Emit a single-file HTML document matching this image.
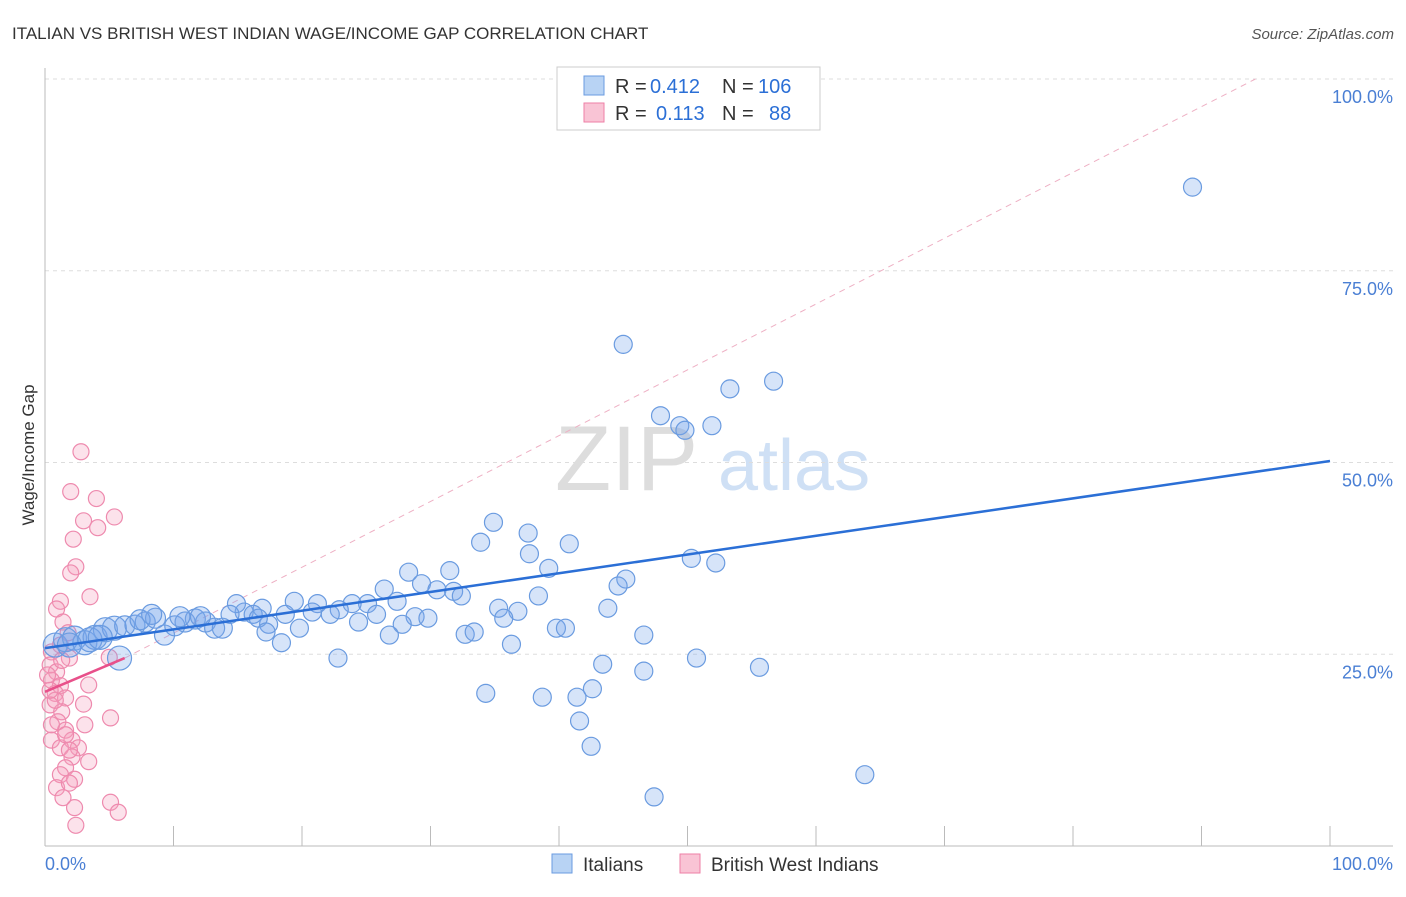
<!DOCTYPE html>
<html><head><meta charset="utf-8"><style>
body{margin:0;background:#fff;font-family:"Liberation Sans",sans-serif}
svg text{font-family:"Liberation Sans",sans-serif}
</style></head><body>
<svg id="chart" width="1406" height="892" xmlns="http://www.w3.org/2000/svg">
<text x="12" y="39" font-size="17" fill="#333">ITALIAN VS BRITISH WEST INDIAN WAGE/INCOME GAP CORRELATION CHART</text>
<text x="1394" y="39" font-size="15" fill="#555" text-anchor="end" font-style="italic">Source: ZipAtlas.com</text>
<text x="555" y="490" font-size="92" fill="#ddd" font-family="Liberation Serif">ZIP</text>
<text x="718" y="490" font-size="72" fill="#cfe0f5">atlas</text>
<text transform="translate(34,455) rotate(-90)" font-size="17" fill="#333" text-anchor="middle">Wage/Income Gap</text>
<g id="grid"></g><g id="marks"></g>
<g>
<rect x="557" y="67" width="263" height="63" fill="#fff" stroke="#ccc"/>
<rect x="584" y="76" width="20" height="19" fill="#b8d3f4" stroke="#6a9be0"/>
<rect x="584" y="103" width="20" height="19" fill="#f9c4d5" stroke="#ee7fa6"/>
<g font-size="20">
<text x="615" y="93" fill="#333">R =</text><text x="650" y="93" fill="#2b6fd6">0.412</text>
<text x="722" y="93" fill="#333">N =</text><text x="758" y="93" fill="#2b6fd6">106</text>
<text x="615" y="120" fill="#333">R =</text><text x="656" y="120" fill="#2b6fd6">0.113</text>
<text x="722" y="120" fill="#333">N =</text><text x="769" y="120" fill="#2b6fd6">88</text>
</g>
</g>
<g>
<rect x="552" y="854" width="20" height="19" fill="#b8d3f4" stroke="#6a9be0"/>
<text x="583" y="871" font-size="19" fill="#333">Italians</text>
<rect x="680" y="854" width="20" height="19" fill="#f9c4d5" stroke="#ee7fa6"/>
<text x="711" y="871" font-size="19" fill="#333">British West Indians</text>
</g>
</svg>
<script>
const blueX=[89.3,45.0,56.7,53.3,47.9,49.4,51.9,49.8,34.9,37.6,33.9,40.8,37.7,50.3,52.2,39.2,28.3,31.5,45.2,26.4,29.3,30.5,31.8,32.4,44.6,38.4,27.4,25.1,23.9,43.8,35.3,36.8,35.7,28.8,29.8,25.8,24.4,22.9,21.2,19.4,20.8,22.2,19.8,18.7,16.9,15.5,14.9,14.4,16.2,17.4,16.6,27.8,26.8,32.7,33.4,36.3,39.8,40.5,46.6,18.4,17.2,22.8,43.4,50.7,55.6,46.6,42.6,34.3,38.7,41.4,41.6,42.5,63.8,47.4,0.8,1.6,2.3,3.1,3.9,4.7,5.4,6.2,7.0,7.8,8.6,9.3,10.1,10.9,11.7,12.5,13.2,13.8,5.8,1.9,3.5,4.3,7.4,8.3,10.5,12.1];
const blueY=[85.9,65.4,60.6,59.6,56.1,54.8,54.8,54.2,42.2,40.8,39.6,39.4,38.1,37.5,36.9,36.2,35.7,35.9,34.8,33.5,34.2,33.4,33.2,32.6,33.9,32.6,31.9,31.6,31.6,31.0,31.0,30.6,29.7,29.9,29.7,30.2,29.2,30.8,31.6,31.9,30.5,30.2,28.4,30.2,31.0,30.5,31.6,30.2,30.2,28.9,29.7,28.9,27.5,27.6,27.9,26.3,28.4,28.4,27.5,26.5,27.9,24.5,23.7,24.5,23.3,22.8,20.5,19.9,19.4,19.4,16.3,13.0,9.3,6.4,26.2,26.9,27.1,26.5,27.2,28.2,28.4,28.7,28.8,29.2,29.7,27.5,28.7,29.2,29.6,29.2,28.4,28.4,24.5,26.2,26.9,27.2,29.5,30.2,29.9,29.9];
const pinkX=[2.8,2.0,4.0,5.4,3.0,4.1,2.2,2.4,2.0,3.5,1.2,0.9,1.4,1.8,1.2,0.5,1.9,5.0,0.4,0.9,0.5,1.2,3.4,0.8,1.6,0.4,3.0,1.3,5.1,1.0,3.1,1.6,0.5,2.1,1.2,2.6,2.1,3.4,1.6,1.2,2.3,0.9,1.9,1.4,5.1,2.3,5.7,2.4,0.8,0.4,0.2,1.3,1.6,0.5,1.9];
const pinkY=[51.4,46.2,45.3,42.9,42.4,41.5,40.0,36.4,35.6,32.5,31.9,30.9,29.2,27.8,26.2,25.3,24.5,24.6,23.6,22.7,21.6,20.9,21.0,19.9,19.3,18.4,18.5,17.5,16.7,16.2,15.8,15.1,13.8,13.8,12.8,12.8,11.6,11.0,10.2,9.3,8.7,7.6,8.2,6.3,5.7,5.0,4.4,2.7,19.0,20.3,22.3,24.2,14.5,15.8,12.5];
const yTicks=[25,50,75,100];
const yTickLabels=["25.0%","50.0%","75.0%","100.0%"];
const blueLine=[[0,25.8],[100,50.2]];
const pinkLine=[[0,20.1],[6.2,24.5]];
const pinkDash=[[6.2,24.5],[94.2,100]];
const xs=v=>45+v*12.85, ys=v=>846-v*7.67;
const NS="http://www.w3.org/2000/svg";
function mk(t,a,p){const e=document.createElementNS(NS,t);for(const k in a)e.setAttribute(k,a[k]);p.appendChild(e);return e;}
const grid=document.getElementById('grid'),marks=document.getElementById('marks');
yTicks.forEach((t,i)=>{
 const l=mk('line',{x1:45,x2:1393,y1:ys(t),y2:ys(t),stroke:'#ddd','stroke-dasharray':'4,4'},grid);
 
 
 const tx=mk('text',{x:1393,y:ys(t)+24,'font-size':18,fill:'#4a7fd4','text-anchor':'end'},grid);tx.textContent=yTickLabels[i];
 
 
});
mk('line',{x1:45,x2:45,y1:68,y2:846,stroke:'#bbb'},grid);
mk('line',{x1:45,x2:1393,y1:846,y2:846,stroke:'#bbb'},grid);
for(let i=0;i<=10;i++){const t=mk('line',{x1:xs(i*10),x2:xs(i*10),y1:826,y2:846,stroke:'#bbb'},grid);
 
 }
const x0=mk('text',{x:45,y:870,'font-size':18,fill:'#4a7fd4'},grid);x0.textContent='0.0%';


const x1=mk('text',{x:1393,y:870,'font-size':18,fill:'#4a7fd4','text-anchor':'end'},grid);x1.textContent='100.0%';


const dl=mk('line',{x1:xs(pinkDash[0][0]),y1:ys(pinkDash[0][1]),x2:xs(pinkDash[1][0]),y2:ys(pinkDash[1][1]),stroke:'#eeb0c4','stroke-dasharray':'6,5','stroke-width':1},marks);


pinkX.forEach((x,i)=>{const c=mk('circle',{cx:xs(x),cy:ys(pinkY[i]),r:8,fill:'rgba(246,160,190,0.3)',stroke:'#ee8aae','stroke-width':1.2},marks);
 
 });
blueX.forEach((x,i)=>{const r=x<14?(x<6?12:10):9;const c=mk('circle',{cx:xs(x),cy:ys(blueY[i]),r:r,fill:'rgba(120,165,235,0.3)',stroke:'#6a9be0','stroke-width':1.2},marks);
 
 });
const bl=mk('line',{x1:xs(blueLine[0][0]),y1:ys(blueLine[0][1]),x2:xs(blueLine[1][0]),y2:ys(blueLine[1][1]),stroke:'#2b6fd6','stroke-width':2.5},marks);


const pl=mk('line',{x1:xs(pinkLine[0][0]),y1:ys(pinkLine[0][1]),x2:xs(pinkLine[1][0]),y2:ys(pinkLine[1][1]),stroke:'#e8508a','stroke-width':2.5},marks);


</script>
</body></html>
